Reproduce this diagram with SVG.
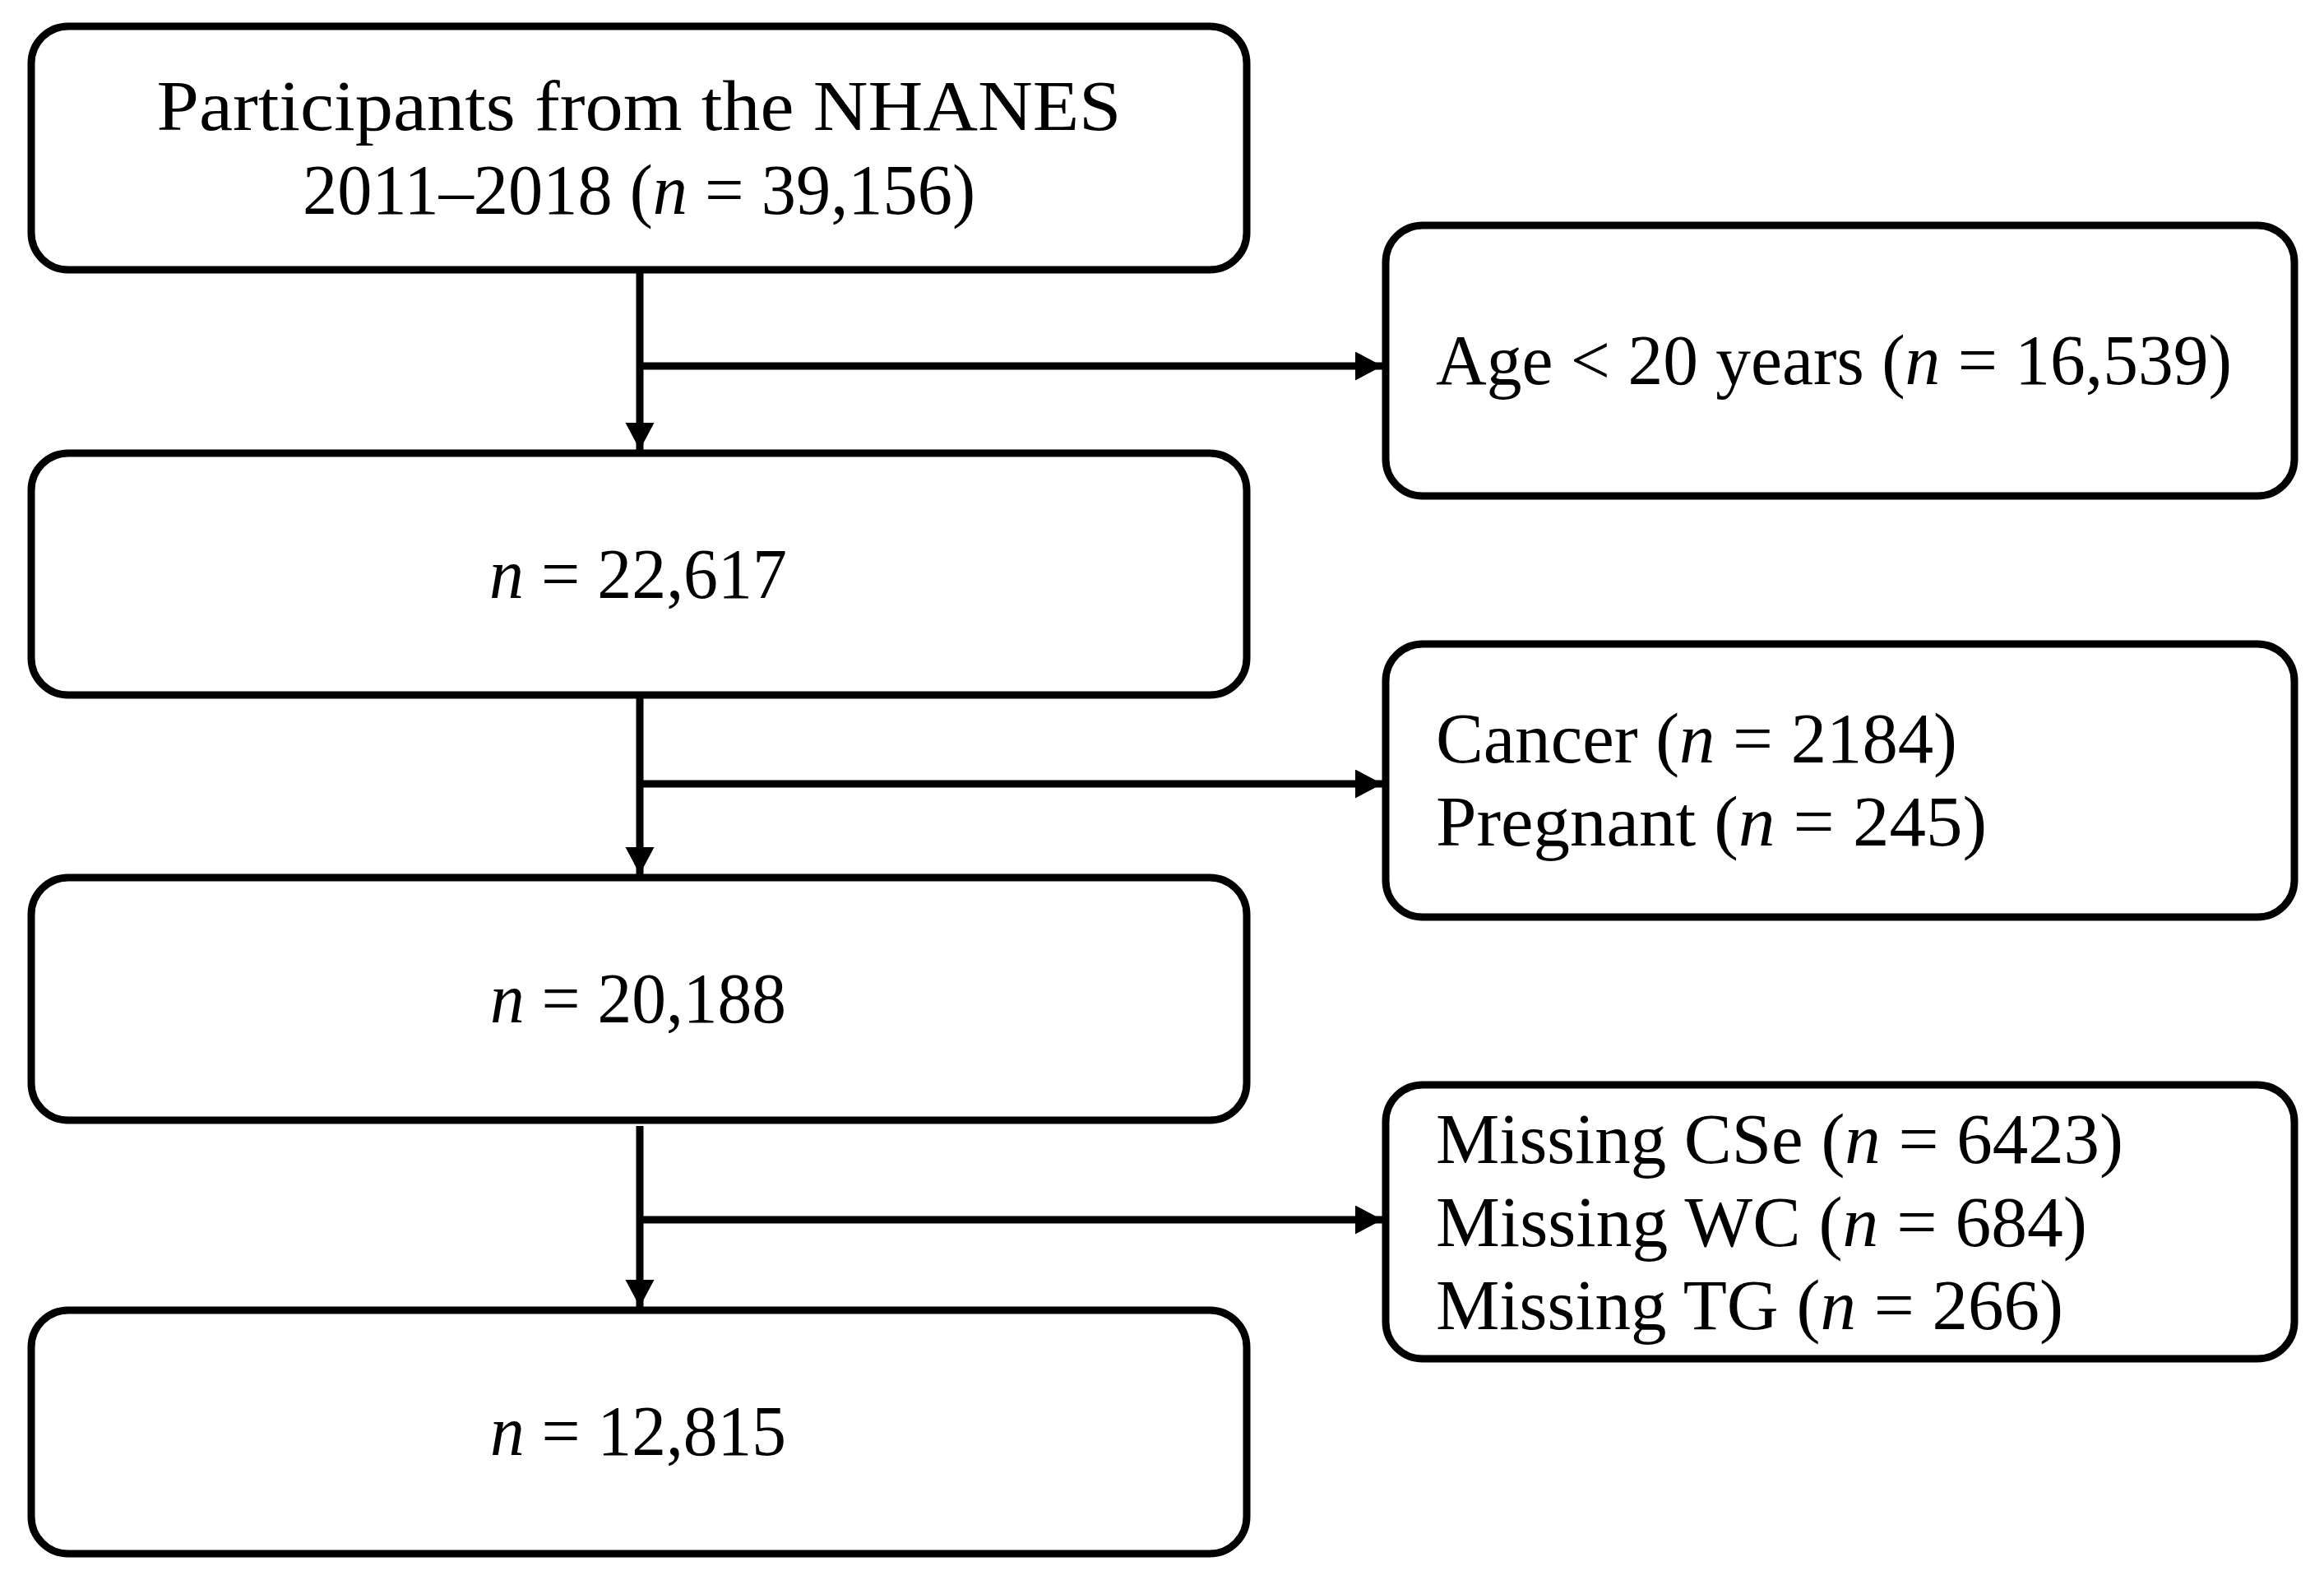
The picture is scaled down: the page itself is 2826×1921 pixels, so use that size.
<svg xmlns="http://www.w3.org/2000/svg" width="2826" height="1921" viewBox="0 0 2826 1921">
  <style>
    .box { fill: #ffffff; stroke: #000000; stroke-width: 9; }
    .conn { fill: none; stroke: #000000; stroke-width: 9; }
    .t { font-family: "Liberation Serif", "Times New Roman", serif; font-size: 86px; fill: #000000; }
    .c { text-anchor: middle; }
    .i { font-style: italic; }
  </style>
  <defs>
    <marker id="arrow" markerUnits="userSpaceOnUse" markerWidth="34" markerHeight="36" refX="33" refY="17.5" orient="auto">
      <path d="M0,0 L33,17.5 L0,35 Z" fill="#000000"/>
    </marker>
  </defs>
  <rect width="2826" height="1921" fill="#ffffff"/>

  <g id="connectors">
    <line class="conn" x1="778" y1="328" x2="778" y2="547" marker-end="url(#arrow)"/>
    <line class="conn" x1="778" y1="445" x2="1681" y2="445" marker-end="url(#arrow)"/>
    <line class="conn" x1="778" y1="845" x2="778" y2="1063" marker-end="url(#arrow)"/>
    <line class="conn" x1="778" y1="953" x2="1681" y2="953" marker-end="url(#arrow)"/>
    <line class="conn" x1="778" y1="1369" x2="778" y2="1589" marker-end="url(#arrow)"/>
    <line class="conn" x1="778" y1="1483" x2="1681" y2="1483" marker-end="url(#arrow)"/>
  </g>

  <g id="node-start">
    <rect class="box" x="38" y="32" width="1478" height="296" rx="45" ry="45"/>
    <text class="t c" x="777" y="158" textLength="1173" lengthAdjust="spacingAndGlyphs">Participants from the NHANES</text>
    <text class="t c" x="777" y="260" textLength="818" lengthAdjust="spacingAndGlyphs">2011–2018 (<tspan class="i">n</tspan> = 39,156)</text>
  </g>

  <g id="node-age">
    <rect class="box" x="1685" y="274" width="1105" height="329" rx="45" ry="45"/>
    <text class="t" x="1746" y="467" textLength="968" lengthAdjust="spacingAndGlyphs">Age &lt; 20 years (<tspan class="i">n</tspan> = 16,539)</text>
  </g>

  <g id="node-22617">
    <rect class="box" x="38" y="551" width="1478" height="294" rx="45" ry="45"/>
    <text class="t c" x="776" y="727" textLength="362" lengthAdjust="spacingAndGlyphs"><tspan class="i">n</tspan> = 22,617</text>
  </g>

  <g id="node-cancer-pregnant">
    <rect class="box" x="1685" y="783" width="1105" height="332" rx="45" ry="45"/>
    <text class="t" x="1746" y="927" textLength="634" lengthAdjust="spacingAndGlyphs">Cancer (<tspan class="i">n</tspan> = 2184)</text>
    <text class="t" x="1746" y="1028" textLength="670" lengthAdjust="spacingAndGlyphs">Pregnant (<tspan class="i">n</tspan> = 245)</text>
  </g>

  <g id="node-20188">
    <rect class="box" x="38" y="1067" width="1478" height="295" rx="45" ry="45"/>
    <text class="t c" x="776" y="1243" textLength="360" lengthAdjust="spacingAndGlyphs"><tspan class="i">n</tspan> = 20,188</text>
  </g>

  <g id="node-missing">
    <rect class="box" x="1685" y="1319" width="1105" height="333" rx="45" ry="45"/>
    <text class="t" x="1746" y="1414" textLength="836" lengthAdjust="spacingAndGlyphs">Missing CSe (<tspan class="i">n</tspan> = 6423)</text>
    <text class="t" x="1746" y="1515" textLength="792" lengthAdjust="spacingAndGlyphs">Missing WC (<tspan class="i">n</tspan> = 684)</text>
    <text class="t" x="1746" y="1616" textLength="763" lengthAdjust="spacingAndGlyphs">Missing TG (<tspan class="i">n</tspan> = 266)</text>
  </g>

  <g id="node-12815">
    <rect class="box" x="38" y="1593" width="1478" height="296" rx="45" ry="45"/>
    <text class="t c" x="776" y="1769" textLength="360" lengthAdjust="spacingAndGlyphs"><tspan class="i">n</tspan> = 12,815</text>
  </g>
</svg>
